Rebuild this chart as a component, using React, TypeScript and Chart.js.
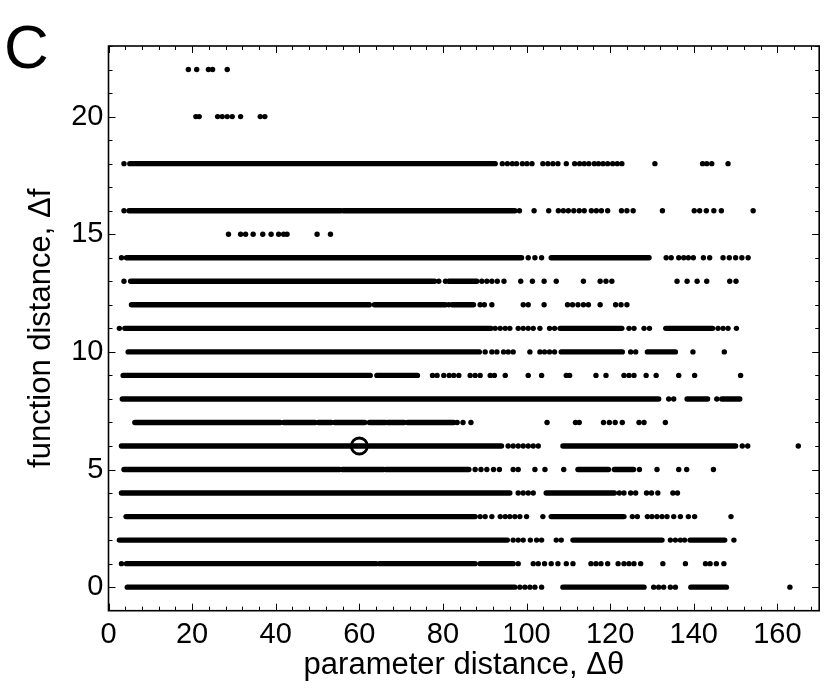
import React, { useEffect, useRef } from "react";
import { Chart, registerables } from "chart.js";

Chart.register(...registerables);

// ---- data ----
const rowLevels = [0, 1, 2, 3, 4, 5, 6, 7, 8, 9, 10, 11, 12, 13, 14, 15, 16, 18, 20, 22];

// dense runs of points for each row: [start, end] in parameter distance
const rowRuns: number[][][] = [
  [[4.5, 97.2], [108.7, 128.1], [139.3, 147.8]],
  [[4.3, 64.0], [64.8, 87.7], [88.9, 96.8]],
  [[2.6, 95.4], [111.1, 132.4], [139.1, 147.4]],
  [[4.2, 87.7], [105.9, 123.3]],
  [[3.1, 96.0], [104.7, 121.0]],
  [[3.7, 55.3], [55.9, 65.8], [66.3, 86.2], [112.3, 119.6], [121.0, 125.6]],
  [[3.1, 94.0], [108.7, 150.0]],
  [[6.3, 41.1], [41.9, 49.4], [50.2, 53.3], [54.1, 61.3], [62.4, 66.3], [66.8, 70.7], [71.5, 82.6]],
  [[3.3, 131.6], [138.4, 143.3], [146.7, 151.0]],
  [[3.5, 62.6], [64.2, 73.9]],
  [[4.7, 88.7], [108.3, 122.9], [128.9, 135.6]],
  [[3.9, 91.5], [108.0, 122.8], [133.3, 144.5]],
  [[5.5, 62.4], [63.6, 80.2], [82.2, 87.3]],
  [[5.3, 77.5], [81.4, 88.1]],
  [[4.3, 98.8], [105.9, 129.3]],
  [],
  [[4.9, 55.6], [56.2, 97.2]],
  [[5.1, 92.5]],
  [],
  [],
];

// isolated points for each row
const rowDots: number[][] = [
  [98.4, 99.6, 100.8, 102.0, 103.6, 130.4, 131.6, 132.8, 134.4, 135.6, 163.0],
  [3.1, 98.0, 101.6, 102.8, 104.3, 105.9, 107.5, 109.5, 111.1, 115.4, 116.6, 117.8, 119.4, 121.9, 123.3, 124.5, 125.7, 127.3, 132.6, 138.0, 142.8, 143.9, 145.4, 147.2],
  [96.8, 98.0, 99.2, 100.9, 102.4, 103.6, 107.1, 108.3, 134.4, 135.6, 136.8, 137.8, 149.6],
  [88.9, 90.1, 91.7, 93.7, 94.9, 96.0, 97.2, 98.4, 100.0, 103.9, 125.3, 126.5, 128.9, 130.0, 131.2, 132.4, 133.6, 135.2, 136.8, 138.7, 140.2, 148.9],
  [98.0, 99.2, 100.4, 101.6, 122.2, 123.3, 124.9, 126.1, 128.7, 129.9, 131.4, 135.0, 136.1],
  [87.7, 89.1, 90.5, 92.1, 93.5, 96.8, 98.0, 102.0, 104.4, 108.9, 127.0, 131.2, 136.4, 138.3, 144.7],
  [95.6, 96.8, 98.0, 99.2, 100.4, 101.6, 102.8, 151.6, 152.9, 165.0],
  [83.4, 84.8, 86.7, 104.9, 111.7, 112.6, 118.4, 119.8, 121.2, 122.9, 126.9, 128.1, 133.2],
  [134.0, 135.2, 145.5],
  [77.5, 78.6, 80.2, 81.5, 82.6, 83.8, 86.5, 87.7, 88.9, 91.3, 92.3, 94.9, 100.4, 103.6, 109.5, 110.3, 116.6, 119.0, 123.3, 124.5, 125.7, 128.6, 131.0, 136.4, 140.2, 151.2],
  [90.1, 91.7, 92.9, 94.5, 95.6, 96.8, 100.8, 103.2, 104.3, 105.5, 106.7, 124.9, 126.1, 139.8, 147.3],
  [2.6, 92.5, 93.7, 94.9, 96.0, 98.0, 99.2, 100.4, 101.6, 103.2, 105.5, 106.7, 124.5, 125.7, 128.1, 129.4, 145.8, 147.0, 148.2, 150.2],
  [80.6, 81.4, 88.9, 89.9, 91.7, 99.2, 100.4, 104.2, 109.8, 111.0, 112.3, 113.6, 114.8, 117.6, 121.3, 122.6, 124.0],
  [3.7, 78.0, 79.0, 80.6, 89.3, 90.5, 91.7, 93.0, 94.6, 98.6, 101.4, 104.2, 107.1, 113.6, 117.6, 119.0, 120.4, 136.0, 138.4, 140.8, 143.1, 148.6, 150.1],
  [3.1, 100.4, 102.0, 103.6, 133.4, 134.6, 136.4, 137.6, 138.7, 139.9, 142.3, 143.8, 147.0, 148.5, 150.0, 151.5, 153.0],
  [28.7, 31.6, 32.8, 34.6, 36.9, 38.9, 40.7, 41.9, 42.7, 49.9, 53.1],
  [3.7, 98.3, 101.8, 105.3, 107.6, 108.8, 110.0, 111.3, 112.6, 113.8, 115.5, 116.7, 117.9, 119.4, 122.7, 124.0, 125.5, 132.5, 140.1, 141.4, 143.0, 144.8, 146.6, 154.2],
  [3.7, 94.2, 95.4, 96.6, 97.6, 99.0, 100.1, 101.3, 103.9, 105.1, 106.3, 107.5, 109.5, 111.5, 112.7, 113.8, 114.9, 116.2, 117.2, 118.3, 119.4, 120.6, 121.7, 122.8, 130.7, 142.1, 143.1, 144.3, 148.2],
  [20.9, 21.7, 26.1, 27.2, 28.4, 29.6, 31.6, 36.3, 37.4],
  [19.1, 21.1, 23.9, 24.9, 28.4],
];

// highlighted point (open circle)
const markX = [60];
const markY = [6];

// axes
const xMin = 0;
const xMax = 170;
const yMin = -1;
const yMax = 23;
const xTickValues = [0, 20, 40, 60, 80, 100, 120, 140, 160];
const yTickValues = [0, 5, 10, 15, 20];
const xMinorStep = 4;
const yMinorStep = 1;
const xTitle = "parameter distance, \u0394\u03b8";
const yTitle = "function distance, \u0394f";
const panelLabel = "C";

const FONT = "'Liberation Sans', Arial, Helvetica, sans-serif";

const framePlugin = {
  id: "frameTicks",
  afterDraw(chart: any) {
    const { ctx, chartArea } = chart;
    const { left, right, top, bottom } = chartArea;
    const xs = chart.scales.x;
    const ys = chart.scales.y;
    ctx.save();
    ctx.strokeStyle = "#000";
    ctx.lineWidth = 1;
    ctx.beginPath();
    for (let v = xMin; v <= xMax + 1e-9; v += xMinorStep) {
      const major = xTickValues.includes(v);
      const len = major ? 7 : 4;
      const px = Math.round(xs.getPixelForValue(v)) + 0.5;
      ctx.moveTo(px, bottom);
      ctx.lineTo(px, bottom - len);
      ctx.moveTo(px, top);
      ctx.lineTo(px, top + len);
    }
    for (let v = 0; v <= yMax + 1e-9; v += yMinorStep) {
      const major = yTickValues.includes(v);
      const len = major ? 7 : 4;
      const py = Math.round(ys.getPixelForValue(v)) + 0.5;
      ctx.moveTo(left, py);
      ctx.lineTo(left + len, py);
      ctx.moveTo(right, py);
      ctx.lineTo(right - len, py);
    }
    ctx.stroke();
    ctx.lineWidth = 1.6;
    ctx.strokeRect(left, top, right - left, bottom - top);
    ctx.fillStyle = "#000";
    ctx.font = `62px ${FONT}`;
    ctx.textBaseline = "alphabetic";
    ctx.textAlign = "left";
    ctx.fillText(panelLabel, 4, 68);
    ctx.restore();
  },
};

export default function App() {
  const canvasRef = useRef<HTMLCanvasElement | null>(null);

  useEffect(() => {
    const canvas = canvasRef.current;
    if (!canvas) return;

    const datasets: any[] = [];
    datasets.push({
      label: "marked",
      data: markX.map((x, i) => ({ x, y: markY[i] })),
      showLine: false,
      pointRadius: 8,
      pointBorderWidth: 2.8,
      pointBorderColor: "#000",
      pointBackgroundColor: "rgba(0,0,0,0)",
      order: 0,
    });
    datasets.push({
      label: "dots",
      data: rowLevels.flatMap((y, i) => rowDots[i].map((x) => ({ x, y }))),
      showLine: false,
      pointRadius: 2.7,
      pointBorderWidth: 0,
      pointBackgroundColor: "#000",
      order: 1,
    });
    rowLevels.forEach((y, i) => {
      rowRuns[i].forEach(([a, b]) => {
        datasets.push({
          label: "run",
          data: [
            { x: a, y },
            { x: b, y },
          ],
          showLine: true,
          borderColor: "#000",
          borderWidth: 5.4,
          borderCapStyle: "round",
          pointRadius: 0,
          order: 2,
        });
      });
    });

    const chart = new Chart(canvas, {
      type: "scatter",
      data: { datasets },
      options: {
        animation: false,
        responsive: true,
        maintainAspectRatio: false,
        events: [],
        layout: { padding: { left: 0, right: 6, top: 46, bottom: 0 } },
        plugins: { legend: { display: false }, tooltip: { enabled: false } },
        scales: {
          x: {
            type: "linear",
            min: xMin,
            max: xMax,
            grid: { display: false, drawTicks: false },
            border: { display: false },
            afterBuildTicks: (scale: any) => {
              scale.ticks = xTickValues.map((v) => ({ value: v }));
            },
            afterFit: (scale: any) => {
              scale.height = 77.3;
            },
            ticks: {
              color: "#000",
              font: { family: FONT, size: 29 },
              padding: 7,
              maxRotation: 0,
              autoSkip: false,
            },
            title: {
              display: true,
              text: xTitle,
              color: "#000",
              font: { family: FONT, size: 31 },
              padding: { top: 0, bottom: 4 },
            },
          },
          y: {
            type: "linear",
            min: yMin,
            max: yMax,
            grid: { display: false, drawTicks: false },
            border: { display: false },
            afterBuildTicks: (scale: any) => {
              scale.ticks = yTickValues.map((v) => ({ value: v }));
            },
            afterFit: (scale: any) => {
              scale.width = 108.5;
            },
            ticks: {
              color: "#000",
              font: { family: FONT, size: 29 },
              padding: 5,
              autoSkip: false,
            },
            title: {
              display: true,
              text: yTitle,
              color: "#000",
              font: { family: FONT, size: 31 },
              padding: { top: 23, bottom: 0 },
            },
          },
        },
      },
      plugins: [framePlugin],
    });

    return () => {
      chart.destroy();
    };
  }, []);

  return (
    <div
      style={{
        position: "absolute",
        left: 0,
        top: 0,
        width: 830,
        height: 688,
        background: "#fff",
      }}
    >
      <canvas ref={canvasRef} />
    </div>
  );
}
